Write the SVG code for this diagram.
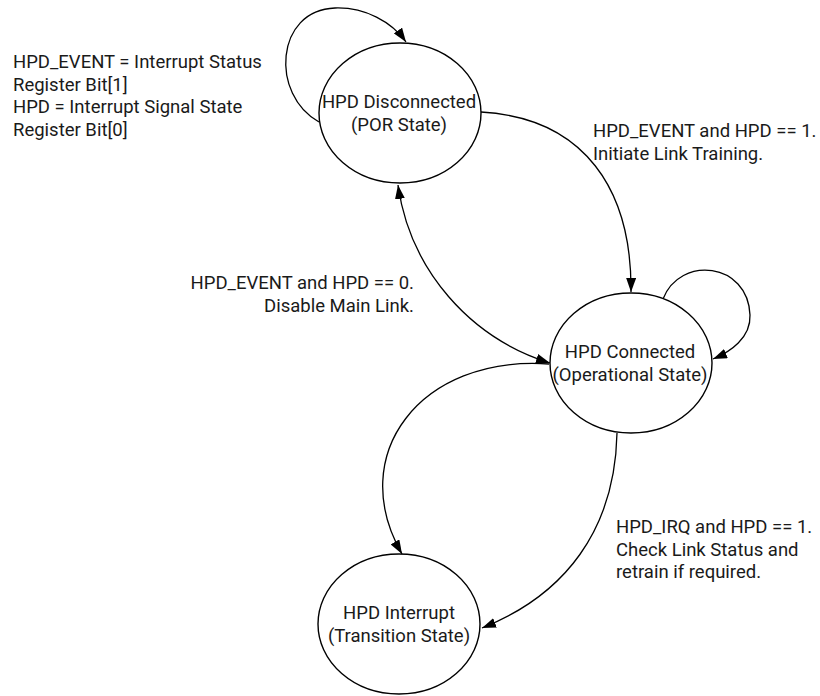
<svg xmlns="http://www.w3.org/2000/svg" width="820" height="696" viewBox="0 0 820 696">
  <style>
    .state { fill: #ffffff; stroke: #000000; stroke-width: 1.4; }
    .label { font-family: Roboto, "Liberation Sans", sans-serif; font-size: 18.5px; fill: #1a1a1a; }
    .mid { text-anchor: middle; }
    .end { text-anchor: end; }
    .edge { fill: none; stroke: #000000; stroke-width: 1.3; }
  </style>
  <defs>
    <marker id="arrow" viewBox="0 0 14 10" refX="14" refY="5" markerWidth="14" markerHeight="10" markerUnits="userSpaceOnUse" orient="auto-start-reverse">
      <path d="M0,0 L14,5 L0,10 Z" fill="#000000"/>
    </marker>
  </defs>

  <!-- legend -->
  <g id="legend">
    <text class="label" x="13" y="68">HPD_EVENT = Interrupt Status</text>
    <text class="label" x="13" y="91">Register Bit[1]</text>
    <text class="label" x="13" y="113">HPD = Interrupt Signal State</text>
    <text class="label" x="13" y="136">Register Bit[0]</text>
  </g>

  <!-- connectors -->
  <g id="connectors">
    <!-- Disconnected self loop -->
    <path class="edge" d="M319,122 C270,95 275,10 335,8 C365,7 392,22 406,42" marker-end="url(#arrow)"/>
    <!-- Disconnected -> Connected -->
    <path class="edge" d="M481,112 C585,118 632,190 631,292" marker-end="url(#arrow)"/>
    <!-- Disconnected <-> Connected -->
    <path class="edge" d="M398,185 C410,270 470,338 550,363" marker-start="url(#arrow)" marker-end="url(#arrow)"/>
    <!-- Connected self loop -->
    <path class="edge" d="M663,299 C680,255 748,262 750,315 C751,338 730,352 713,359" marker-end="url(#arrow)"/>
    <!-- Connected -> Interrupt (left) -->
    <path class="edge" d="M549,364 C420,355 345,455 402,554" marker-end="url(#arrow)"/>
    <!-- Connected -> Interrupt (right) -->
    <path class="edge" d="M617,433 C615,530 565,595 482,628" marker-end="url(#arrow)"/>

    <text class="label" x="593" y="137">HPD_EVENT and HPD == 1.</text>
    <text class="label" x="593" y="160">Initiate Link Training.</text>

    <text class="label end" x="414" y="289">HPD_EVENT and HPD == 0.</text>
    <text class="label end" x="414" y="312">Disable Main Link.</text>

    <text class="label" x="616" y="533">HPD_IRQ and HPD == 1.</text>
    <text class="label" x="616" y="556">Check Link Status and</text>
    <text class="label" x="616" y="578">retrain if required.</text>
  </g>

  <!-- states -->
  <g id="state-disconnected">
    <ellipse class="state" cx="400" cy="113" rx="81" ry="70"/>
    <text class="label mid" x="399" y="108">HPD Disconnected</text>
    <text class="label mid" x="399" y="131">(POR State)</text>
  </g>
  <g id="state-connected">
    <ellipse class="state" cx="631" cy="363" rx="81" ry="70"/>
    <text class="label mid" x="630" y="358">HPD Connected</text>
    <text class="label mid" x="630" y="381">(Operational State)</text>
  </g>
  <g id="state-interrupt">
    <ellipse class="state" cx="399" cy="624" rx="81" ry="70"/>
    <text class="label mid" x="399" y="619">HPD Interrupt</text>
    <text class="label mid" x="399" y="642">(Transition State)</text>
  </g>
</svg>
